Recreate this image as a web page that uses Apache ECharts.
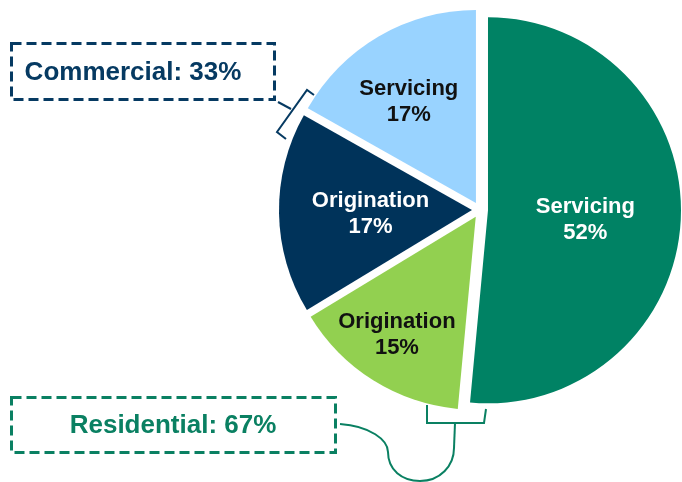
<!DOCTYPE html>
<html>
<head>
<meta charset="utf-8">
<script src="https://cdn.jsdelivr.net/npm/echarts@6/dist/echarts.min.js"></script>
<style>
html,body{margin:0;padding:0;background:#fff;}
#chart{width:682px;height:482px;}
</style>
</head>
<body>
<div id="chart"></div>
<script>
// ---- data ----
const categories = ['Servicing', 'Origination', 'Origination', 'Servicing'];
const shares = [52, 15, 17, 17];
const groupNames = ['Commercial', 'Residential'];
const groupShares = [33, 67];

// ---- styles ----
const sliceColors = ['#008264', '#92D050', '#00335A', '#99D3FF'];
const labelColors = ['#ffffff', '#111111', '#ffffff', '#111111'];
const labelShift = [[-2, 5], [-26, 34], [-2, 2], [-17, -15]];
const NAVY = '#063A62';
const GREEN = '#0A8062';
const FONT = 'Liberation Sans, Arial, sans-serif';

const chart = echarts.init(document.getElementById('chart'), null, {renderer: 'canvas'});

const pieData = categories.map((name, i) => ({
  name: name,
  value: shares[i],
  selected: true,
  itemStyle: {color: sliceColors[i]},
  label: {color: labelColors[i]}
}));

function curve(x1, y1, cx1, cy1, cx2, cy2, x2, y2) {
  return {
    type: 'bezierCurve',
    shape: {x1: x1, y1: y1, cpx1: cx1, cpy1: cy1, cpx2: cx2, cpy2: cy2, x2: x2, y2: y2},
    style: {fill: 'none', stroke: GREEN, lineWidth: 2}
  };
}

chart.setOption({
  animation: false,
  backgroundColor: '#ffffff',
  series: [{
    type: 'pie',
    center: [480, 210],
    radius: [0, 193],
    startAngle: 90,
    clockwise: true,
    selectedMode: 'multiple',
    selectedOffset: 8,
    silent: true,
    emphasis: {disabled: true},
    label: {
      show: true,
      position: 'inside',
      formatter: p => p.name + '\n' + p.value + '%',
      fontFamily: FONT,
      fontSize: 22,
      fontWeight: 'bold',
      lineHeight: 26,
      align: 'center'
    },
    labelLayout: p => ({dx: labelShift[p.dataIndex][0], dy: labelShift[p.dataIndex][1]}),
    labelLine: {show: false},
    data: pieData
  }],
  graphic: [
    {
      type: 'rect',
      shape: {x: 11.5, y: 43.5, width: 263, height: 56},
      style: {fill: 'none', stroke: NAVY, lineWidth: 3, lineDash: [10, 5]}
    },
    {
      type: 'text',
      x: 133, y: 73,
      style: {
        text: groupNames[0] + ': ' + groupShares[0] + '%',
        fill: NAVY, fontFamily: FONT, fontSize: 26, fontWeight: 'bold',
        align: 'center', verticalAlign: 'middle'
      }
    },
    {
      type: 'rect',
      shape: {x: 11.5, y: 397.5, width: 324, height: 55},
      style: {fill: 'none', stroke: GREEN, lineWidth: 3, lineDash: [10, 5]}
    },
    {
      type: 'text',
      x: 173, y: 426,
      style: {
        text: groupNames[1] + ': ' + groupShares[1] + '%',
        fill: GREEN, fontFamily: FONT, fontSize: 26, fontWeight: 'bold',
        align: 'center', verticalAlign: 'middle'
      }
    },
    // commercial bracket
    {
      type: 'polyline',
      shape: {points: [[314, 95], [307, 90], [277, 132], [286, 139]]},
      style: {fill: 'none', stroke: NAVY, lineWidth: 2}
    },
    {
      type: 'line',
      shape: {x1: 278, y1: 102, x2: 291, y2: 109},
      style: {stroke: NAVY, lineWidth: 2}
    },
    // residential bracket
    {
      type: 'polyline',
      shape: {points: [[427, 405], [427, 423], [484, 423], [486, 409]]},
      style: {fill: 'none', stroke: GREEN, lineWidth: 2}
    },
    curve(340, 424, 370, 426, 388, 440, 388, 452),
    curve(388, 452, 388, 470, 402, 481, 420, 481),
    curve(420, 481, 440, 481, 454, 466, 454, 448),
    {
      type: 'line',
      shape: {x1: 454, y1: 448, x2: 455, y2: 423},
      style: {stroke: GREEN, lineWidth: 2}
    }
  ]
});
</script>
</body>
</html>
